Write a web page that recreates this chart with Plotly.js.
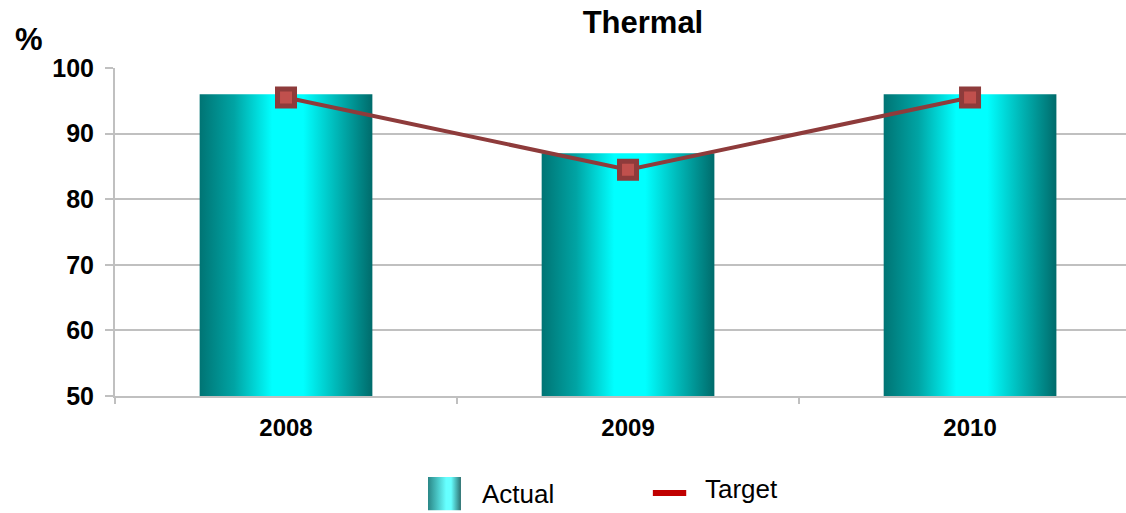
<!DOCTYPE html>
<html>
<head>
<meta charset="utf-8">
<script src="https://cdn.plot.ly/plotly-3.0.1.min.js"></script>
<style>
  html, body { margin: 0; padding: 0; background: #fff; }
  #chart { width: 1126px; height: 513px; }
</style>
</head>
<body>
<div id="chart"></div>
<script>
// Thermal availability: actual vs target, percent
const years = ['2008', '2009', '2010'];
const actual = [96, 87, 96];
const target = [95.5, 84.5, 95.5];
const yTicks = [50, 60, 70, 80, 90, 100];

const FONT = 'Liberation Sans, Arial, sans-serif';
const GRID = '#c0c0c0';
const LINE_RED = '#8e3b3b';

const traces = [
  {
    type: 'bar',
    name: 'Actual',
    x: years,
    y: actual,
    width: 0.505,
    marker: { color: '#00b8b8', line: { width: 0 } },
    hoverinfo: 'skip'
  },
  {
    type: 'scatter',
    mode: 'lines+markers',
    name: 'Target',
    x: years,
    y: target,
    line: { color: LINE_RED, width: 4 },
    marker: { symbol: 'square', size: 17, color: '#c0504d', line: { color: LINE_RED, width: 5 } },
    cliponaxis: false,
    hoverinfo: 'skip'
  }
];

const layout = {
  width: 1126,
  height: 513,
  margin: { l: 115, r: 0, t: 68, b: 117 },
  paper_bgcolor: '#ffffff',
  plot_bgcolor: '#ffffff',
  showlegend: false,
  font: { family: FONT, color: '#000' },
  title: {
    text: 'Thermal',
    font: { family: FONT, size: 31, weight: 'bold', color: '#000' },
    xref: 'container', x: 0.571, xanchor: 'center',
    yref: 'container', y: 0.957, yanchor: 'middle'
  },
  xaxis: {
    type: 'category',
    range: [-0.5, 2.456],
    tickson: 'boundaries',
    ticks: 'outside', ticklen: 6, tickwidth: 2, tickcolor: GRID,
    showline: true, linecolor: GRID, linewidth: 2,
    showgrid: false, zeroline: false,
    tickfont: { family: FONT, size: 24, weight: 'bold', color: '#000' },
    ticklabelstandoff: 9,
    fixedrange: true
  },
  yaxis: {
    range: [50, 100],
    tickvals: yTicks,
    ticktext: yTicks.map(String),
    ticks: 'outside', ticklen: 8, tickwidth: 2, tickcolor: GRID,
    showline: true, linecolor: GRID, linewidth: 2,
    showgrid: true, gridcolor: GRID, gridwidth: 2,
    zeroline: false,
    tickfont: { family: FONT, size: 25, weight: 'bold', color: '#000' },
    ticklabelstandoff: 6,
    fixedrange: true
  },
  annotations: [
    { text: '%', xref: 'paper', yref: 'paper', x: -0.085, y: 1.087,
      xanchor: 'center', yanchor: 'middle', showarrow: false,
      font: { family: FONT, size: 31, weight: 'bold', color: '#000' } },
    { text: 'Actual', xref: 'paper', yref: 'paper', x: 0.361, y: -0.299,
      xanchor: 'left', yanchor: 'middle', showarrow: false,
      font: { family: FONT, size: 26, color: '#000' } },
    { text: 'Target', xref: 'paper', yref: 'paper', x: 0.5816, y: -0.284,
      xanchor: 'left', yanchor: 'middle', showarrow: false,
      font: { family: FONT, size: 26, color: '#000' } }
  ],
  shapes: [
    // legend swatch for the bars
    { type: 'rect', xref: 'paper', yref: 'paper', layer: 'above',
      x0: 0.3096, x1: 0.3422, y0: -0.2473, y1: -0.3481,
      fillcolor: '#40c8c8', line: { width: 0 } },
    // legend swatch for the target line
    { type: 'line', xref: 'paper', yref: 'paper', layer: 'above',
      x0: 0.532, x1: 0.565, y0: -0.296, y1: -0.296,
      line: { color: '#c00000', width: 6 } }
  ]
};

function addGradient(svg, id, stops) {
  const ns = 'http://www.w3.org/2000/svg';
  let defs = svg.querySelector('defs');
  if (!defs) { defs = document.createElementNS(ns, 'defs'); svg.insertBefore(defs, svg.firstChild); }
  const g = document.createElementNS(ns, 'linearGradient');
  g.setAttribute('id', id);
  g.setAttribute('x1', '0'); g.setAttribute('y1', '0');
  g.setAttribute('x2', '1'); g.setAttribute('y2', '0');
  stops.forEach(([off, col]) => {
    const s = document.createElementNS(ns, 'stop');
    s.setAttribute('offset', off);
    s.setAttribute('stop-color', col);
    g.appendChild(s);
  });
  defs.appendChild(g);
}

Plotly.newPlot('chart', traces, layout, { displayModeBar: false, staticPlot: true }).then(gd => {
  const svg = gd.querySelector('.main-svg');
  addGradient(svg, 'barShade', [
    ['0', '#007474'], ['0.2', '#00a4a4'], ['0.42', '#00ffff'],
    ['0.6', '#00ffff'], ['0.8', '#00b4b4'], ['1', '#006b6b']
  ]);
  addGradient(svg, 'swatchShade', [
    ['0', '#2a8686'], ['0.55', '#66ffff'], ['0.7', '#66ffff'], ['1', '#2e7070']
  ]);
  gd.querySelectorAll('.trace.bars .point path').forEach(p => { p.style.fill = 'url(#barShade)'; });
  const sw = gd.querySelector('.shapelayer path[data-index="0"]');
  if (sw) sw.style.fill = 'url(#swatchShade)';
});
</script>
</body>
</html>
